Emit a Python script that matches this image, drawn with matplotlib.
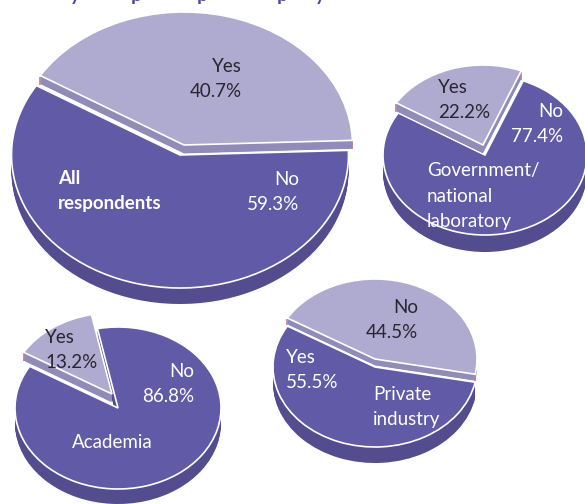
import matplotlib
matplotlib.use("Agg")
import matplotlib.pyplot as plt
from matplotlib.patches import Wedge
from matplotlib.transforms import Affine2D
import math

plt.rcParams['font.family'] = ['Lato', 'DejaVu Sans']

W, H = 585, 504
DARK, LIGHT, WALL, DEPTH, PINK = '#615aa6', '#afaacf', '#908bb8', '#534c8e', '#b5809f'

# Data: the lifted slice share and the remaining share of each pie (percent)
groups = ['All respondents', 'Government/national laboratory', 'Academia', 'Private industry']
lifted_share = [40.7, 22.2, 13.2, 44.5]
rest_share = [59.3, 77.4, 86.8, 55.5]
start_angles = [2, 68, 101.5, -11]

# Layout: (cx, cy, rx, ry, depth, lift dx, lift dy, wall)
layouts = [
    (180, 155, 168.5, 133, 16, 4, -10, 9),
    (485, 155, 102, 80, 17, -2, -10, 9),
    (118, 408, 103, 81, 15, -6, -14, 9),
    (375, 367, 102, 80, 16, 0, -8, 7),
]

fig = plt.figure(figsize=(W / 100, H / 100), dpi=100)
ax = fig.add_axes([0, 0, 1, 1])
ax.set_xlim(0, W)
ax.set_ylim(H, 0)
ax.axis('off')


def wedge(cx, cy, rx, ry, a0, a1, z, **kw):
    tr = Affine2D().scale(rx, -ry).translate(cx, cy) + ax.transData
    p = Wedge((0, 0), 1, a0, a1, transform=tr, zorder=z, **kw)
    ax.add_patch(p)
    return p


for lifted, rest, start, (cx, cy, rx, ry, d, ldx, ldy, wall) in zip(
        lifted_share, rest_share, start_angles, layouts):
    span = 360 * lifted / (lifted + rest)
    end = start + span
    for k in range(d, 0, -1):
        wedge(cx, cy + k, rx, ry, end, start + 360, 1, fc=DEPTH, ec='none')
    wedge(cx, cy, rx, ry, end, start + 360, 2, fc=DARK, ec='white', lw=1.2)
    lx, ly = cx + ldx, cy + ldy
    for k in range(wall, 0, -1):
        wedge(lx, ly + k, rx, ry, start, end, 3, fc=WALL,
              ec='white' if k == wall else 'none', lw=0.8)
    for a in (start, end):
        ex = lx + rx * math.cos(math.radians(a))
        ey = ly - ry * math.sin(math.radians(a))
        ax.plot([ex, ex], [ey + 1, ey + wall], color=PINK, lw=1.2,
                solid_capstyle='butt', zorder=3.5)
    wedge(lx, ly, rx, ry, start, end, 4, fc=LIGHT, ec='white', lw=1.2)

# Tails of the heading, which the crop of the picture cuts off at the top edge
heading_glyphs = ['y', 'p', 'p', 'p', 'y']
heading_x = [75, 136, 202, 282, 320]
for x, g in zip(heading_x, heading_glyphs):
    ax.text(x, 1, g, color='#4f4a9a', ha='center', va='baseline', fontsize=14,
            fontweight='bold', zorder=6)

FS = 13.5
labels = [
    (242, 79, 'Yes\n40.7%', '#2a2630', 'right', 'normal'),
    (299, 192, 'No\n59.3%', 'white', 'right', 'normal'),
    (58, 191, 'All\nrespondents', 'white', 'left', 'bold'),
    (438, 100, 'Yes\n22.2%', '#2a2630', 'left', 'normal'),
    (563, 124, 'No\n77.4%', 'white', 'right', 'normal'),
    (427, 196, 'Government/\nnational\nlaboratory', 'white', 'left', 'normal'),
    (45, 350, 'Yes\n13.2%', '#2a2630', 'left', 'normal'),
    (194, 384, 'No\n86.8%', 'white', 'right', 'normal'),
    (72, 442, 'Academia', 'white', 'left', 'normal'),
    (418, 320, 'No\n44.5%', '#2a2630', 'right', 'normal'),
    (286, 370, 'Yes\n55.5%', 'white', 'left', 'normal'),
    (373, 407, 'Private\nindustry', 'white', 'left', 'normal'),
]
for x, y, s, c, ha, w in labels:
    ax.text(x, y, s, color=c, ha=ha, va='center', fontsize=FS, fontweight=w,
            linespacing=1.6, zorder=6)

fig.savefig('out.png', dpi=100, facecolor='white')
